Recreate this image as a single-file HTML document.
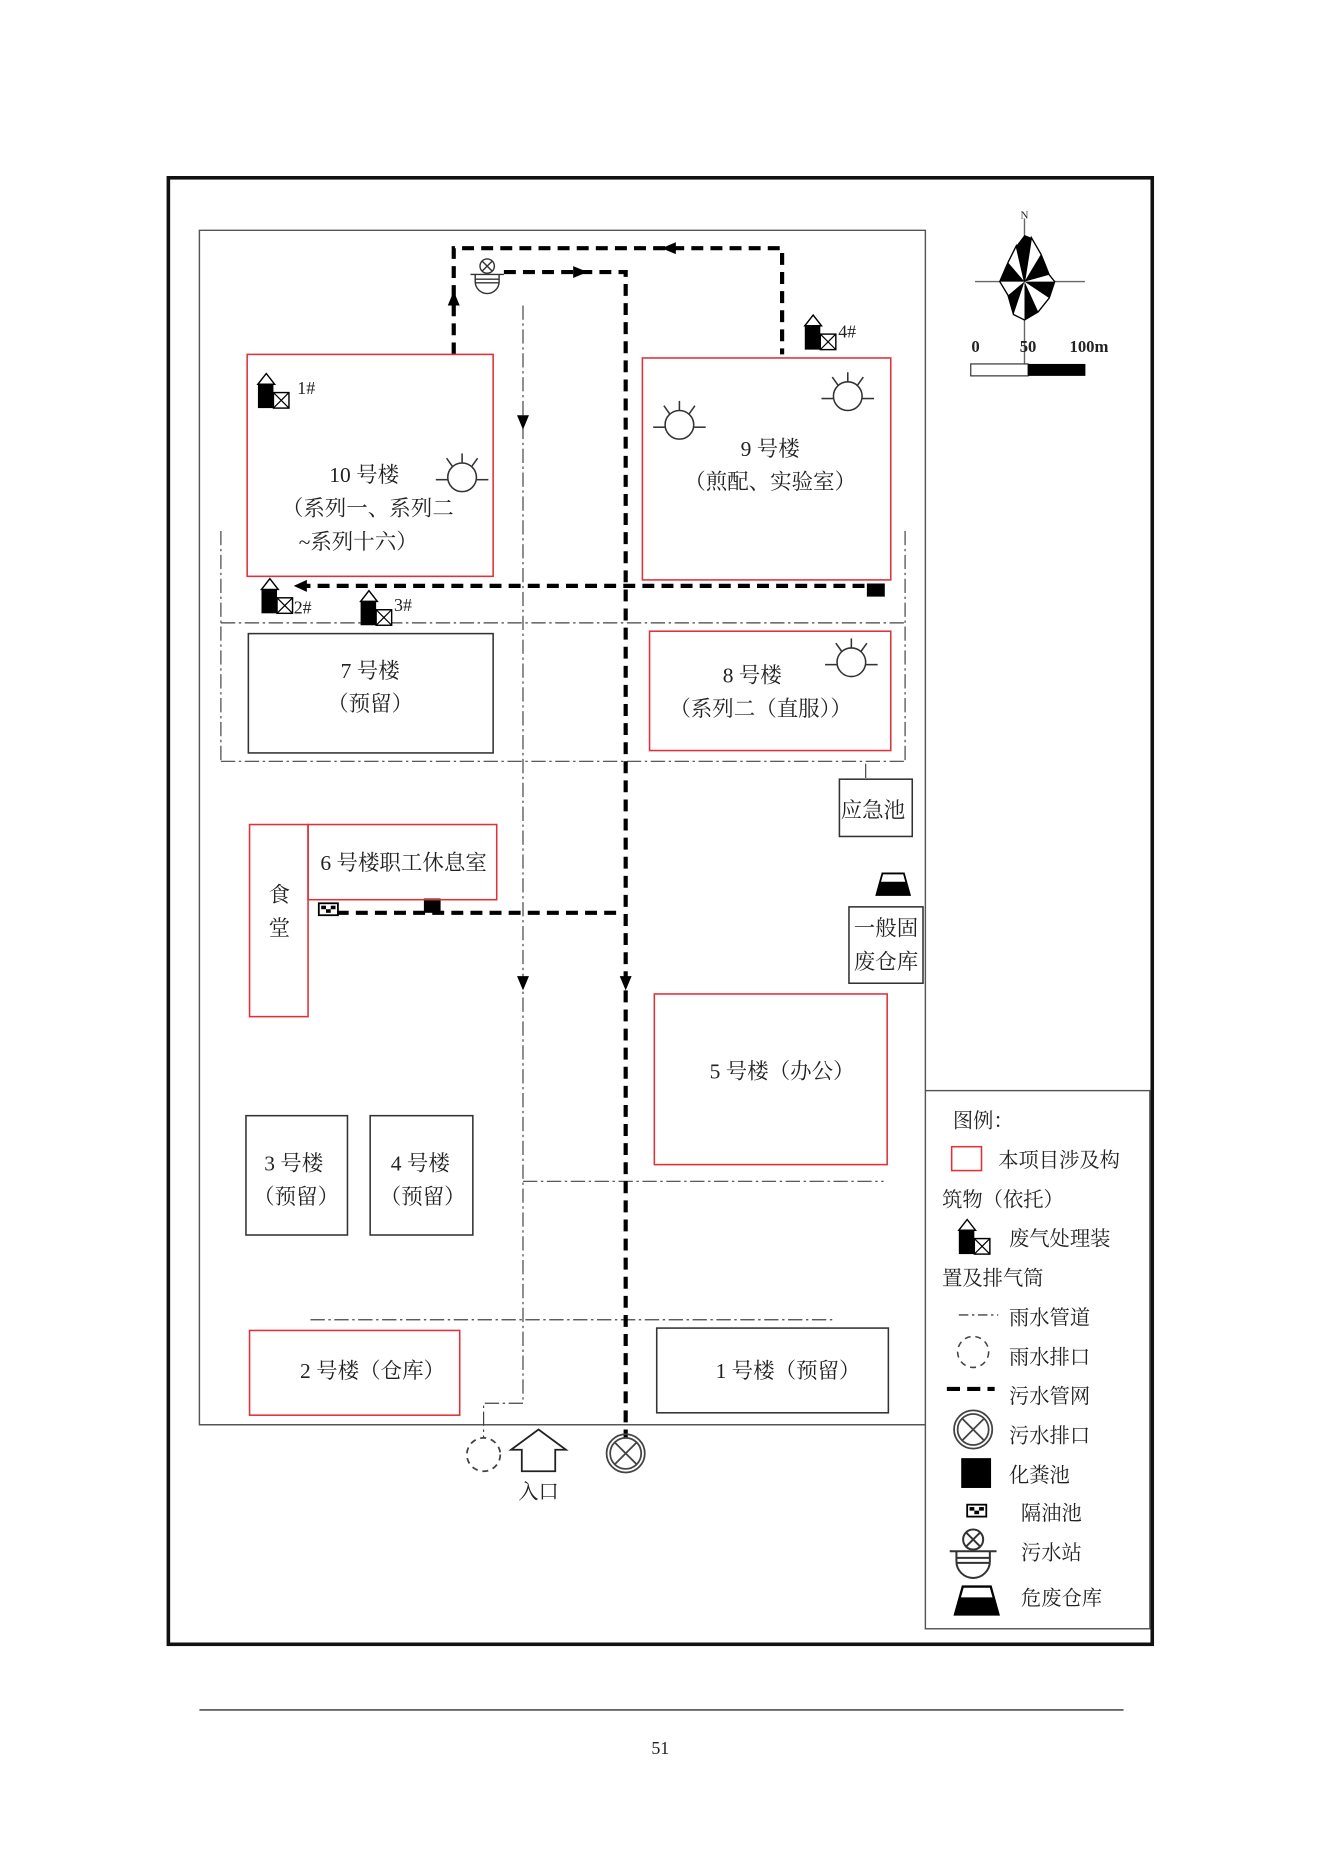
<!DOCTYPE html>
<html><head><meta charset="utf-8"><style>
html,body{margin:0;padding:0;background:#fff;}
svg{display:block;}
text{font-family:"Liberation Serif","Noto Serif CJK SC",serif;fill:#222;}
</style></head><body>
<svg width="1323" height="1871" viewBox="0 0 1108 1568" preserveAspectRatio="none" xmlns="http://www.w3.org/2000/svg">
<defs>
<g id="ex">
 <polygon points="0,9 7,0 14,9" fill="#fff" stroke="#000" stroke-width="1.2"/>
 <rect x="0" y="9" width="13" height="20" fill="#000"/>
 <rect x="13" y="16" width="13" height="13" fill="#fff" stroke="#000" stroke-width="1.2"/>
 <line x1="13" y1="16" x2="26" y2="29" stroke="#000" stroke-width="1"/>
 <line x1="26" y1="16" x2="13" y2="29" stroke="#000" stroke-width="1"/>
</g>
<g id="sun" fill="none" stroke="#333" stroke-width="1.3">
 <circle cx="0" cy="0" r="12"/>
 <line x1="-22" y1="2" x2="-12" y2="2"/><line x1="12" y1="2" x2="22" y2="2"/>
 <line x1="0" y1="-12" x2="0" y2="-20"/><line x1="-8" y1="-9" x2="-13" y2="-16"/><line x1="8" y1="-9" x2="13" y2="-16"/>
</g>
<g id="stn" fill="none" stroke="#333" stroke-width="1.2">
 <line x1="-14" y1="0" x2="14" y2="0"/>
 <circle cx="0" cy="-7" r="6"/><line x1="-4" y1="-11" x2="4" y2="-3"/><line x1="4" y1="-11" x2="-4" y2="-3"/>
 <path d="M-10,0 L-10,6 A10,10 0 0 0 10,6 L10,0"/>
 <line x1="-10" y1="4" x2="10" y2="4"/><line x1="-10" y1="7" x2="10" y2="7"/>
</g>
<g id="trap">
 <polygon points="-14,10 -9,-8 9,-8 14,10" fill="#fff" stroke="#000" stroke-width="1.5"/>
 <polygon points="-14,10 -11,-1 11,-1 14,10" fill="#000"/>
</g>
<g id="chk">
 <rect x="-8" y="-5" width="16" height="10" fill="#fff" stroke="#000" stroke-width="1.5"/>
 <rect x="-6" y="-3" width="4" height="3" fill="#000"/><rect x="2" y="-3" width="4" height="3" fill="#000"/>
 <rect x="-2" y="0" width="4" height="3" fill="#000"/>
</g>
</defs>

<rect x="141" y="149" width="824" height="1229" fill="none" stroke="#111" stroke-width="3"/>
<polyline points="775,914 775,193 167,193 167,1194 775,1194" fill="none" stroke="#555" stroke-width="1.2"/>
<rect x="775" y="914" width="188" height="451" fill="none" stroke="#555" stroke-width="1.2"/>

<g transform="translate(858,236) scale(1.15)">
 <line x1="0" y1="-46" x2="0" y2="60" stroke="#666" stroke-width="1"/>
 <line x1="-36" y1="0" x2="44" y2="0" stroke="#666" stroke-width="1"/>
 <polygon points="0,0 5,-32 12,-20 18,-5 22,0 18,12 10,22 0,28 -8,24 -12,10 -18,0 -12,-14 -6,-26" fill="#fff" stroke="#000" stroke-width="1"/>
 <polygon points="0,0 5,-32 0,-34" fill="#000"/>
 <polygon points="0,0 12,-20 18,-5" fill="#000"/>
 <polygon points="0,0 22,0 18,12" fill="#000"/>
 <polygon points="0,0 10,22 0,28" fill="#000"/>
 <polygon points="0,0 -8,24 -12,10" fill="#000"/>
 <polygon points="0,0 -18,0 -12,-14" fill="#000"/>
 <polygon points="0,0 -6,-26 0,-34" fill="#000"/>
 <text x="0" y="-46" font-size="8" text-anchor="middle">N</text>
</g>
<text x="817" y="295" font-size="14" font-weight="bold" text-anchor="middle">0</text>
<text x="861" y="295" font-size="14" font-weight="bold" text-anchor="middle">50</text>
<text x="912" y="295" font-size="14" font-weight="bold" text-anchor="middle">100m</text>
<rect x="813" y="305" width="48" height="10" fill="#fff" stroke="#333" stroke-width="1"/>
<rect x="861" y="305" width="48" height="10" fill="#000"/>

<g fill="none" stroke="#444" stroke-width="1" stroke-dasharray="12,3,2,3">
 <line x1="438" y1="256" x2="438" y2="1176"/>
 <polyline points="438,1176 405,1176 405,1205"/>
 <line x1="185" y1="445" x2="185" y2="640"/>
 <line x1="758" y1="445" x2="758" y2="640"/>
 <line x1="185" y1="522" x2="758" y2="522"/>
 <line x1="185" y1="638" x2="758" y2="638"/>
 <line x1="725" y1="640" x2="725" y2="653"/>
 <line x1="438" y1="990" x2="740" y2="990"/>
 <line x1="260" y1="1106" x2="700" y2="1106"/>
</g>
<polygon points="433,348 443,348 438,360" fill="#000"/>
<polygon points="433,818 443,818 438,830" fill="#000"/>
<polygon points="519,818 529,818 524,830" fill="#000"/>

<g fill="none" stroke="#000" stroke-width="3.5" stroke-dasharray="10,6">
 <polyline points="380,297 380,208 655,208 655,297"/>
 <polyline points="422,228 524,228 524,1205"/>
 <line x1="250" y1="491" x2="735" y2="491"/>
 <line x1="282" y1="765" x2="520" y2="765"/>
</g>
<polygon points="375,256 385,256 380,244" fill="#000"/>
<polygon points="566,203 566,213 554,208" fill="#000"/>
<polygon points="480,223 480,233 492,228" fill="#000"/>
<polygon points="257,486 257,496 246,491" fill="#000"/>
<rect x="726" y="489" width="15" height="11" fill="#000"/>
<rect x="355" y="753" width="14" height="12" fill="#000"/>
<use href="#chk" transform="translate(275,762)"/>
<use href="#stn" transform="translate(408,230)"/>

<g fill="none" stroke="#444" stroke-width="1.5">
 <circle cx="524" cy="1218" r="16"/><circle cx="524" cy="1218" r="13"/>
 <line x1="515" y1="1209" x2="533" y2="1227"/><line x1="533" y1="1209" x2="515" y2="1227"/>
 <circle cx="405" cy="1219" r="14" stroke-dasharray="5,4"/>
</g>
<polygon points="437,1233 437,1215 428,1215 451,1198 474,1215 465,1215 465,1233" fill="#fff" stroke="#222" stroke-width="1.5"/>
<text x="451" y="1256" font-size="17" text-anchor="middle">入口</text>

<g fill="none" stroke-width="1.3">
 <rect x="207" y="297" width="206" height="186" stroke="#e0303a"/>
 <rect x="538" y="300" width="208" height="186" stroke="#e0303a"/>
 <rect x="208" y="531" width="205" height="100" stroke="#333"/>
 <rect x="544" y="529" width="202" height="100" stroke="#e0303a"/>
 <rect x="703" y="653" width="61" height="48" stroke="#333"/>
 <rect x="711" y="760" width="62" height="64" stroke="#333"/>
 <rect x="209" y="691" width="49" height="161" stroke="#e0303a"/>
 <rect x="258" y="691" width="158" height="63" stroke="#e0303a"/>
 <rect x="548" y="833" width="195" height="143" stroke="#e0303a"/>
 <rect x="206" y="935" width="85" height="100" stroke="#333"/>
 <rect x="310" y="935" width="86" height="100" stroke="#333"/>
 <rect x="209" y="1115" width="176" height="71" stroke="#e0303a"/>
 <rect x="550" y="1113" width="194" height="71" stroke="#333"/>
</g>
<g font-size="18" text-anchor="middle">
 <text x="305" y="404">10 号楼</text>
 <text x="308" y="432">（系列一、系列二</text>
 <text x="300" y="460">~系列十六）</text>
 <text x="645" y="382">9 号楼</text>
 <text x="645" y="410">（煎配、实验室）</text>
 <text x="310" y="568">7 号楼</text>
 <text x="310" y="596">（预留）</text>
 <text x="630" y="572">8 号楼</text>
 <text x="637" y="600">（系列二（直服））</text>
 <text x="731" y="685">应急池</text>
 <text x="742" y="784">一般固</text>
 <text x="742" y="812">废仓库</text>
 <text x="234" y="756">食</text>
 <text x="234" y="784">堂</text>
 <text x="338" y="729">6 号楼职工休息室</text>
 <text x="655" y="904">5 号楼（办公）</text>
 <text x="246" y="981">3 号楼</text>
 <text x="248" y="1009">（预留）</text>
 <text x="352" y="981">4 号楼</text>
 <text x="354" y="1009">（预留）</text>
 <text x="312" y="1155">2 号楼（仓库）</text>
 <text x="660" y="1155">1 号楼（预留）</text>
</g>
<use href="#sun" transform="translate(387,400)"/>
<use href="#sun" transform="translate(569,356)"/>
<use href="#sun" transform="translate(710,332)"/>
<use href="#sun" transform="translate(713,555)"/>

<use href="#ex" transform="translate(216,313)"/>
<text x="249" y="330" font-size="15">1#</text>
<use href="#ex" transform="translate(219,485)"/>
<text x="246" y="514" font-size="15">2#</text>
<use href="#ex" transform="translate(302,495)"/>
<text x="330" y="512" font-size="15">3#</text>
<use href="#ex" transform="translate(674,264)"/>
<text x="702" y="283" font-size="15">4#</text>
<use href="#trap" transform="translate(748,740)"/>

<g font-size="17">
 <text x="798" y="945">图例：</text>
 <rect x="797" y="961" width="25" height="20" fill="none" stroke="#e0303a" stroke-width="1.3"/>
 <text x="836" y="978">本项目涉及构</text>
 <text x="789" y="1011">筑物（依托）</text>
 <use href="#ex" transform="translate(803,1022)"/>
 <text x="845" y="1044">废气处理装</text>
 <text x="789" y="1077">置及排气筒</text>
 <line x1="803" y1="1102" x2="836" y2="1102" stroke="#444" stroke-width="1.2" stroke-dasharray="8,3,2,3"/>
 <text x="845" y="1110">雨水管道</text>
 <circle cx="815" cy="1133" r="13" fill="none" stroke="#444" stroke-width="1.3" stroke-dasharray="5,4"/>
 <text x="845" y="1143">雨水排口</text>
 <line x1="793" y1="1164" x2="833" y2="1164" stroke="#000" stroke-width="3.5" stroke-dasharray="11,6"/>
 <text x="845" y="1176">污水管网</text>
 <g fill="none" stroke="#444" stroke-width="1.5">
  <circle cx="815" cy="1198" r="16"/><circle cx="815" cy="1198" r="13"/>
  <line x1="806" y1="1189" x2="824" y2="1207"/><line x1="824" y1="1189" x2="806" y2="1207"/>
 </g>
 <text x="845" y="1209">污水排口</text>
 <rect x="805" y="1222" width="25" height="25" fill="#000"/>
 <text x="845" y="1242">化粪池</text>
 <use href="#chk" transform="translate(818,1266)"/>
 <text x="855" y="1274">隔油池</text>
 <use href="#stn" transform="translate(815,1300) scale(1.4)"/>
 <text x="855" y="1307">污水站</text>
 <use href="#trap" transform="translate(818,1340) scale(1.3)"/>
 <text x="855" y="1345">危废仓库</text>
</g>

<line x1="167" y1="1433" x2="941" y2="1433" stroke="#333" stroke-width="1.2"/>
<text x="553" y="1470" font-size="15" text-anchor="middle">51</text>
</svg>
</body></html>
